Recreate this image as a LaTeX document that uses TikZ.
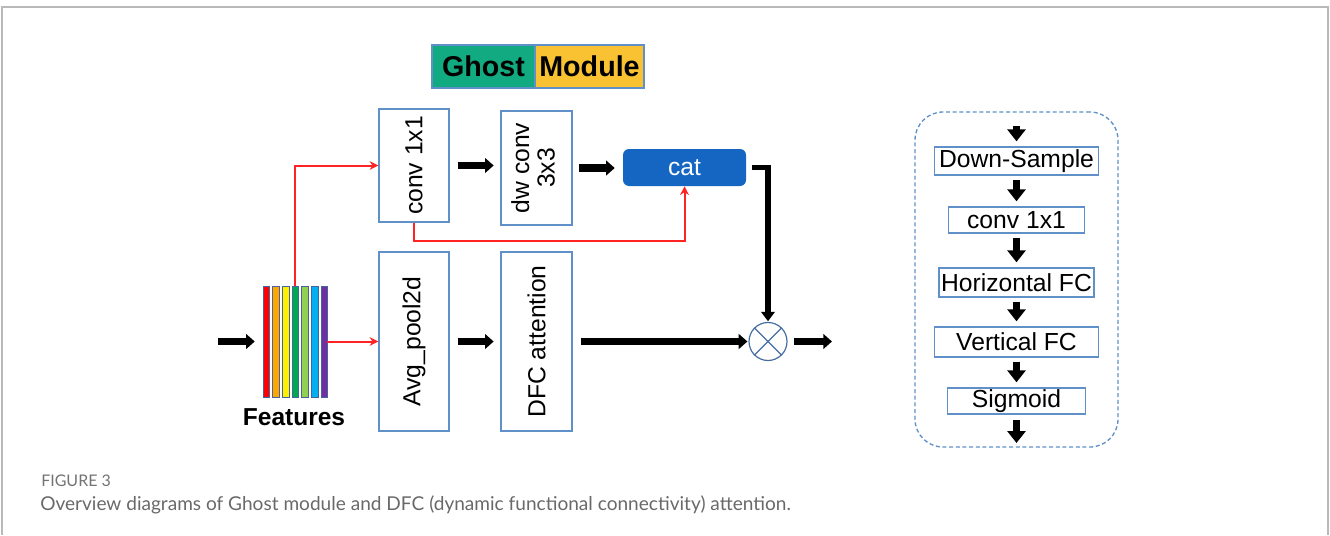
\documentclass[tikz,border=0pt]{standalone}
\usepackage{fontspec}
\usepackage{graphicx}
\setmainfont{Liberation Sans}
\newfontfamily\capfont{Lato}
\usetikzlibrary{arrows.meta,calc}

\definecolor{edgeblue}{RGB}{95,145,200}
\definecolor{ringblue}{RGB}{70,110,160}
\definecolor{catblue}{RGB}{20,102,194}
\definecolor{ghostgreen}{RGB}{18,170,128}
\definecolor{ghostyellow}{RGB}{248,194,50}
\definecolor{redline}{RGB}{255,35,35}
\definecolor{framegray}{RGB}{185,185,185}
\definecolor{capgray}{RGB}{105,105,105}
\definecolor{figgray}{RGB}{115,115,115}
\definecolor{barline}{RGB}{70,100,160}
\definecolor{fr1}{RGB}{255,0,0}
\definecolor{fr2}{RGB}{255,165,0}
\definecolor{fr3}{RGB}{255,240,0}
\definecolor{fr4}{RGB}{0,168,80}
\definecolor{fr5}{RGB}{146,208,80}
\definecolor{fr6}{RGB}{0,176,240}
\definecolor{fr7}{RGB}{112,48,160}

\begin{document}
\begin{tikzpicture}[x=0.75pt,y=-0.75pt,
  boxdim/.style 2 args={minimum width=#1*0.75pt,minimum height=#2*0.75pt},
  lbl/.style={font=\fontsize{18.5}{20}\selectfont},
  blockbox/.style={draw=edgeblue,line width=1pt,inner sep=0pt,lbl},
  pbox/.style={draw=edgeblue,line width=1pt,inner sep=0pt,lbl},
  heavy/.style={line width=5.5pt,-{Triangle[length=6.5pt,width=11pt]}},
  heavyv/.style={line width=4pt,-{Triangle[length=7pt,width=10pt]}},
  downarrow/.style={line width=5.25pt,-{Triangle[length=9pt,width=13.5pt]}},
  redarrow/.style={draw=redline,line width=1.5pt,-{Stealth[length=6.5pt,width=6.5pt]}},
  ghostlbl/.style={draw=edgeblue,line width=0.8pt,inner sep=0pt,
    font=\bfseries\fontsize{21.5}{24}\selectfont},
  fbar/.style={draw=barline,line width=0.5pt,inner sep=0pt,boxdim={6.7}{111}}
]
\useasboundingbox (0,0) rectangle (1330,535);

% page frame
\draw[framegray,line width=1.5pt] (2,535) -- (2,7) -- (1328,7) -- (1328,535);

% title tag
\node[ghostlbl,fill=ghostgreen,boxdim={103}{43}] (gh) at (483.5,66.5) {Ghost};
\node[ghostlbl,fill=ghostyellow,boxdim={109}{43}] (mod) at (589.5,66.5) {Module};

% feature maps
\node[inner sep=0pt,boxdim={64}{111}] (feat) at (295,341.5) {};
\foreach \i in {1,...,7}{
  \node[fbar,fill=fr\i] (b\i) at ({263+(\i-1)*9.67+3.35},341.5) {};
}
\node[anchor=base,inner sep=0pt,font=\bfseries\fontsize{18.4}{20}\selectfont] (ftxt) at (294,425) {Features};

% ghost branch
\node[blockbox,boxdim={70}{113}] (conv) at (414,165.5) {\rotatebox{90}{conv 1x1}};
\node[blockbox,boxdim={71}{114}] (dw) at (536.5,168)
  {\rotatebox{90}{\begin{tabular}{@{}c@{}}dw conv\\[-1pt]3x3\end{tabular}}};
\node[fill=catblue,rounded corners=4.5pt,inner sep=0pt,boxdim={123}{37},
  text=white,lbl] (cat) at (684.5,167.5) {cat};

% attention branch
\node[blockbox,boxdim={70}{179}] (avg) at (414,341.5) {\rotatebox{90}{Avg\_pool2d}};
\node[blockbox,boxdim={71}{179}] (dfc) at (536.5,341.5) {\rotatebox{90}{DFC attention}};

% product
\node[circle,draw=ringblue,line width=0.9pt,minimum size=38*0.75pt,inner sep=0pt] (ot) at (768,341.5) {};
\draw[ringblue,line width=0.9pt] (ot.north west) -- (ot.south east) (ot.north east) -- (ot.south west);

\coordinate (src) at (218,341.5);
\coordinate (dst) at (832,341.5);

% connectors
\draw[heavy,shorten >=6pt] (src) -- (feat.west);
\draw[redarrow] (b4.north) |- (conv.west);
\draw[redarrow] (feat.east) -- (avg.west);
\draw[redarrow] (conv.south) -- ++(0,18) -| (cat.south);
\draw[heavy,shorten <=6pt,shorten >=5pt] (conv.east) -- (conv.east -| dw.west);
\draw[heavy,shorten <=4.5pt,shorten >=6pt] (dw.east) -- (dw.east -| cat.west);
\draw[heavy,shorten <=6pt,shorten >=5pt] (avg.east) -- (dfc.west);
\draw[heavy,shorten <=6pt,shorten >=0.75pt] (dfc.east) -- (ot.west);
\draw[heavyv,shorten <=4.5pt,shorten >=0.5pt] (cat.east) -| (ot.north);
\draw[heavy,shorten <=5pt] (ot.east) -- (dst);

% DFC attention detail
\node[draw=edgeblue,line width=1pt,dash pattern=on 3pt off 2pt,rounded corners=21pt,
  boxdim={203}{335}] (panel) at (1016.5,279.5) {};
\node[pbox,boxdim={164}{28}] (ds) at (1016.5,161) {Down-Sample};
\node[pbox,boxdim={136}{26}] (c11) at (1016.5,220) {conv 1x1};
\node[pbox,boxdim={155}{29}] (hfc) at (1016.5,282.5) {Horizontal FC};
\node[pbox,boxdim={164}{30}] (vfc) at (1016.5,342) {Vertical FC};
\node[pbox,boxdim={138}{26}] (sig) at (1016.5,401) {Sigmoid};
\coordinate (pin) at (1016.5,126);
\coordinate (pout) at (1016.5,443);
\draw[downarrow,shorten >=3.75pt] (pin) -- (ds.north);
\draw[downarrow,shorten <=3pt,shorten >=3.75pt] (ds.south) -- (c11.north);
\draw[downarrow,shorten <=3pt,shorten >=3.75pt] (c11.south) -- (hfc.north);
\draw[downarrow,shorten <=3pt,shorten >=3.75pt] (hfc.south) -- (vfc.north);
\draw[downarrow,shorten <=3pt,shorten >=3.75pt] (vfc.south) -- (sig.north);
\draw[downarrow,shorten <=4pt] (sig.south) -- (pout);

% caption
\node[anchor=base west,inner sep=0pt,text=figgray,
  font=\capfont\fontsize{12}{14}\selectfont] (fig) at (41,486) {FIGURE 3};
\node[anchor=base west,inner sep=0pt,text=capgray,
  font=\capfont\fontsize{14.3}{17}\selectfont] (cap) at (40,510)
  {Overview diagrams of Ghost module and DFC (dynamic functional connectivity) attention.};
\end{tikzpicture}
\end{document}
